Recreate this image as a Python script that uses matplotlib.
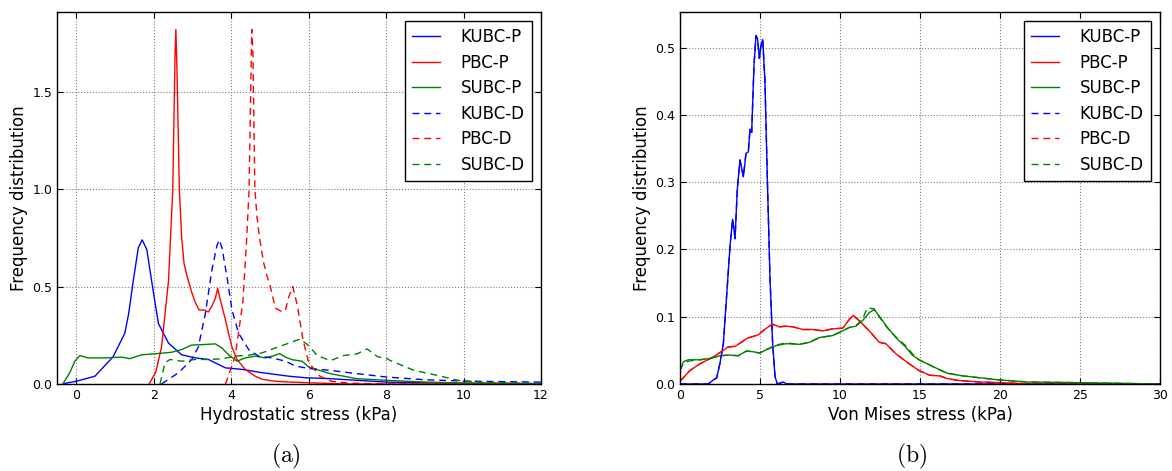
import matplotlib
matplotlib.use("Agg")
import matplotlib.pyplot as plt

# ---------------- data: hydrostatic stress (a) ----------------
hs_kubc_p_x = [-0.3, 0.0, 0.48, 0.95, 1.25, 1.35, 1.47, 1.60, 1.70, 1.82, 1.99, 2.12, 2.38, 2.72, 3.07, 3.41,
               3.85, 4.28, 4.80, 5.49, 5.92, 6.5, 7.0, 8.0, 9.0, 10.0, 12.0]
hs_kubc_p_y = [0.003, 0.014, 0.04, 0.14, 0.26, 0.36, 0.53, 0.70, 0.74, 0.69, 0.47, 0.31, 0.21, 0.15, 0.134, 0.126,
               0.083, 0.075, 0.058, 0.04, 0.032, 0.028, 0.022, 0.01, 0.006, 0.004, 0.002]

hs_pbc_p_x = [1.88, 2.05, 2.2, 2.38, 2.49, 2.55, 2.57, 2.60, 2.66, 2.72, 2.78, 2.85, 2.98, 3.07, 3.17, 3.30, 3.41,
              3.50, 3.59, 3.65, 3.72, 3.85, 3.93, 4.02, 4.15, 4.36, 4.62, 4.80, 5.14, 5.5, 6.2, 7.0, 12.0]
hs_pbc_p_y = [0.0, 0.06, 0.19, 0.53, 1.0, 1.7, 1.82, 1.6, 1.0, 0.75, 0.62, 0.56, 0.47, 0.42, 0.38, 0.38, 0.37,
              0.40, 0.44, 0.49, 0.43, 0.33, 0.26, 0.19, 0.126, 0.075, 0.04, 0.024, 0.014, 0.01, 0.005, 0.0, 0.0]

hs_subc_p_x = [-0.35, -0.17, -0.04, 0.09, 0.3, 0.73, 1.17, 1.38, 1.69, 2.03, 2.46, 2.72, 2.98, 3.24, 3.59, 3.76,
               3.93, 4.15, 4.36, 4.62, 4.88, 5.06, 5.25, 5.4, 5.57, 5.83, 6.0, 6.56, 7.25, 8.0, 9.0, 10.0, 12.0]
hs_subc_p_y = [0.0, 0.058, 0.117, 0.146, 0.134, 0.134, 0.138, 0.13, 0.15, 0.155, 0.163, 0.177, 0.2, 0.202, 0.206,
               0.185, 0.15, 0.117, 0.134, 0.143, 0.134, 0.143, 0.156, 0.138, 0.125, 0.117, 0.087, 0.053, 0.027,
               0.019, 0.01, 0.005, 0.002]

hs_kubc_d_x = [2.2, 2.64, 2.98, 3.15, 3.33, 3.5, 3.63, 3.69, 3.76, 3.89, 4.02, 4.19, 4.45, 4.71, 5.06, 5.4, 5.66,
               6.0, 6.56, 7.25, 8.0, 8.98, 10.0, 11.05, 12.0]
hs_kubc_d_y = [0.0, 0.058, 0.126, 0.19, 0.36, 0.585, 0.71, 0.74, 0.70, 0.55, 0.38, 0.26, 0.177, 0.143, 0.134,
               0.117, 0.092, 0.08, 0.07, 0.053, 0.036, 0.022, 0.015, 0.012, 0.01]

hs_pbc_d_x = [3.85, 4.10, 4.30, 4.40, 4.46, 4.53, 4.56, 4.61, 4.67, 4.73, 4.84, 4.93, 5.01, 5.14, 5.32, 5.40,
              5.49, 5.59, 5.71, 5.85, 6.0, 6.29, 6.59, 7.0, 8.0, 12.0]
hs_pbc_d_y = [0.0, 0.14, 0.42, 0.75, 1.0, 1.82, 1.7, 1.0, 0.85, 0.75, 0.62, 0.55, 0.50, 0.39, 0.37, 0.38, 0.45,
              0.50, 0.40, 0.23, 0.11, 0.04, 0.014, 0.005, 0.0, 0.0]

hs_subc_d_x = [2.16, 2.29, 2.42, 2.72, 3.07, 3.41, 3.76, 4.10, 4.45, 4.80, 5.14, 5.49, 5.78, 6.0, 6.22, 6.56,
               6.9, 7.25, 7.51, 7.77, 8.05, 8.11, 8.72, 9.33, 9.85, 10.5, 12.0]
hs_subc_d_y = [0.0, 0.109, 0.126, 0.117, 0.126, 0.126, 0.129, 0.143, 0.148, 0.16, 0.185, 0.21, 0.231, 0.197,
               0.146, 0.12, 0.146, 0.155, 0.18, 0.141, 0.128, 0.12, 0.07, 0.044, 0.019, 0.008, 0.002]

# ---------------- data: von Mises stress (b) ----------------
vm_kubc_p_x = [0, 1.77, 2.08, 2.29, 2.5, 2.71, 2.92, 3.13, 3.29, 3.44, 3.58, 3.75, 3.96, 4.125, 4.27, 4.375,
               4.48, 4.625, 4.75, 4.85, 4.96, 5.06, 5.17, 5.31, 5.46, 5.625, 5.79, 5.94, 6.08, 6.46, 6.67, 30]
vm_kubc_p_y = [0, 0, 0.006, 0.009, 0.031, 0.06, 0.133, 0.206, 0.245, 0.216, 0.289, 0.333, 0.308, 0.343, 0.345,
               0.379, 0.374, 0.474, 0.518, 0.513, 0.484, 0.503, 0.512, 0.45, 0.304, 0.157, 0.06, 0.011, 0, 0.003,
               0, 0]

vm_pbc_p_x = [0, 0.62, 1.24, 2.07, 2.7, 3.0, 3.45, 4.2, 4.88, 5.29, 5.77, 6.22, 6.64, 7.05, 7.68, 8.3, 8.92,
              9.54, 10.17, 10.58, 10.83, 11.2, 11.83, 12.45, 12.86, 13.49, 14.32, 14.94, 15.6, 16.25, 16.7, 17.5,
              18.75, 20, 22, 30]
vm_pbc_p_y = [0.004, 0.02, 0.03, 0.04, 0.05, 0.055, 0.056, 0.068, 0.073, 0.081, 0.089, 0.085, 0.086, 0.085,
              0.081, 0.081, 0.079, 0.082, 0.083, 0.096, 0.102, 0.094, 0.079, 0.062, 0.06, 0.045, 0.03, 0.02,
              0.013, 0.012, 0.008, 0.005, 0.003, 0.002, 0.0, 0.0]

vm_subc_p_x = [0, 0.21, 0.52, 1.24, 1.87, 2.49, 3.11, 3.63, 4.15, 4.56, 4.98, 5.39, 6.0, 6.64, 7.47, 8.1, 8.7,
               9.54, 10.17, 10.58, 11.0, 11.4, 11.83, 12.14, 12.45, 12.97, 13.49, 14.1, 14.52, 14.94, 15.8, 16.7,
               17.7, 19.2, 20, 21.7, 25, 27.5, 30]
vm_subc_p_y = [0.02, 0.033, 0.036, 0.036, 0.038, 0.042, 0.043, 0.042, 0.049, 0.048, 0.046, 0.051, 0.057, 0.06,
               0.059, 0.062, 0.069, 0.072, 0.079, 0.084, 0.086, 0.094, 0.106, 0.111, 0.101, 0.084, 0.069, 0.055,
               0.043, 0.036, 0.026, 0.016, 0.012, 0.008, 0.006, 0.003, 0.002, 0.001, 0.0]

vm_kubc_d_x = vm_kubc_p_x
vm_kubc_d_y = vm_kubc_p_y
vm_pbc_d_x = vm_pbc_p_x
vm_pbc_d_y = vm_pbc_p_y
vm_subc_d_x = [0, 0.21, 0.52, 1.24, 1.87, 2.49, 3.11, 3.63, 4.15, 4.56, 4.98, 5.39, 6.0, 6.64, 7.47, 8.1, 8.7,
               9.54, 10.17, 10.58, 11.0, 11.4, 11.7, 12.1, 12.45, 12.97, 13.49, 14.1, 14.52, 14.94, 15.8, 16.7,
               17.7, 19.2, 20, 21.7, 25, 27.5, 30]
vm_subc_d_y = [0.02, 0.031, 0.034, 0.036, 0.038, 0.042, 0.043, 0.042, 0.049, 0.048, 0.046, 0.051, 0.058, 0.061,
               0.059, 0.062, 0.069, 0.072, 0.079, 0.084, 0.087, 0.096, 0.113, 0.112, 0.100, 0.083, 0.070, 0.057,
               0.045, 0.036, 0.026, 0.016, 0.012, 0.008, 0.006, 0.003, 0.002, 0.001, 0.0]

labels = ["KUBC-P", "PBC-P", "SUBC-P", "KUBC-D", "PBC-D", "SUBC-D"]
colors = ["#0000ff", "#ff0000", "#008000"]

plt.rcParams["font.family"] = ["DejaVu Sans"]
plt.rcParams["mathtext.fontset"] = "cm"

fig = plt.figure(figsize=(11.72, 4.71), dpi=100)
ax1 = fig.add_axes([57 / 1172, 1 - 384 / 471, 484 / 1172, 372 / 471])
ax2 = fig.add_axes([680 / 1172, 1 - 384 / 471, 480 / 1172, 372 / 471])

dash = (0, (5, 3.5))

def draw(ax, series):
    for i, (x, y) in enumerate(series):
        ls = "-" if i < 3 else dash
        ax.plot(x, y, color=colors[i % 3], lw=1.0, linestyle=ls, label=labels[i])

draw(ax1, [(hs_kubc_p_x, hs_kubc_p_y), (hs_pbc_p_x, hs_pbc_p_y), (hs_subc_p_x, hs_subc_p_y),
           (hs_kubc_d_x, hs_kubc_d_y), (hs_pbc_d_x, hs_pbc_d_y), (hs_subc_d_x, hs_subc_d_y)])
draw(ax2, [(vm_kubc_p_x, vm_kubc_p_y), (vm_pbc_p_x, vm_pbc_p_y), (vm_subc_p_x, vm_subc_p_y),
           (vm_kubc_d_x, vm_kubc_d_y), (vm_pbc_d_x, vm_pbc_d_y), (vm_subc_d_x, vm_subc_d_y)])

ax1.set_xlim(-0.5, 12)
ax1.set_ylim(0, 1.91)
ax1.set_xticks([0, 2, 4, 6, 8, 10, 12])
ax1.set_yticks([0.0, 0.5, 1.0, 1.5])
ax1.set_xlabel("Hydrostatic stress (kPa)", fontsize=12, labelpad=3)

ax2.set_xlim(0, 30)
ax2.set_ylim(0, 0.553)
ax2.set_xticks([0, 5, 10, 15, 20, 25, 30])
ax2.set_yticks([0.0, 0.1, 0.2, 0.3, 0.4, 0.5])
ax2.set_xlabel("Von Mises stress (kPa)", fontsize=12, labelpad=3)

for ax in (ax1, ax2):
    ax.set_ylabel("Frequency distribution", fontsize=12, labelpad=3)
    ax.grid(True, color="0.5", linestyle=":", linewidth=0.8)
    ax.tick_params(direction="in", top=True, right=True, length=4, labelsize=9)
    for s in ax.spines.values():
        s.set_linewidth(1.0)
    leg = ax.legend(loc="upper right", fontsize=12, frameon=True, fancybox=False, edgecolor="black",
                    framealpha=1, handlelength=1.7, handletextpad=1.25, labelspacing=0.45,
                    borderpad=0.42, borderaxespad=0.55)
    leg.get_frame().set_linewidth(1.0)

fig.text(286 / 1172, 1 - 456 / 471, r"$\mathrm{(a)}$", ha="center", va="center", fontsize=17)
fig.text(912 / 1172, 1 - 456 / 471, r"$\mathrm{(b)}$", ha="center", va="center", fontsize=17)

fig.savefig("out.png", dpi=100)
